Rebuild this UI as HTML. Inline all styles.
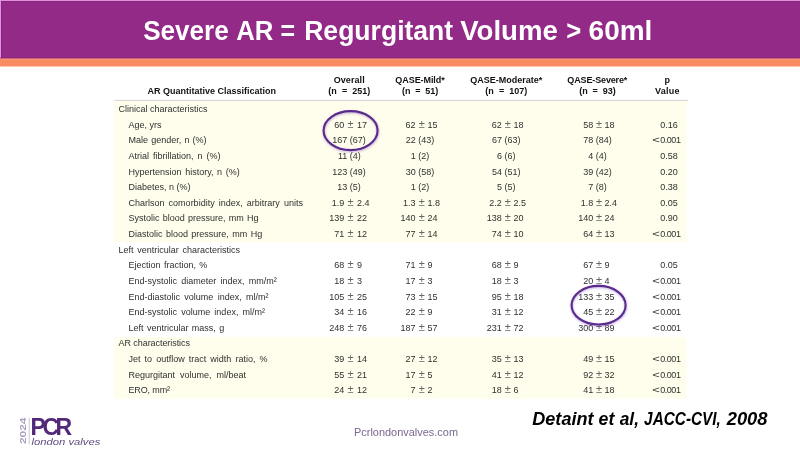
<!DOCTYPE html>
<html lang="en"><head><meta charset="utf-8"><title>Severe AR = Regurgitant Volume &gt; 60ml</title>
<style>
html,body{margin:0;padding:0;background:#fff;}
body{width:800px;height:450px;overflow:hidden;position:relative;font-family:"Liberation Sans",sans-serif;}
svg{position:absolute;left:0;top:0;display:block}
text{font-family:"Liberation Sans",sans-serif;white-space:pre}
.t{font-size:9px;fill:#303030}
.b{font-size:9px;font-weight:bold;fill:#111}
</style></head><body>
<svg width="800" height="450" viewBox="0 0 800 450">
<defs><filter id="sh" x="-20%" y="-20%" width="140%" height="150%"><feGaussianBlur stdDeviation="1"/></filter></defs>

<rect x="0" y="0" width="800" height="58.7" fill="#932a88"/>
<rect x="0" y="0" width="800" height="1" fill="#e291dc"/>
<rect x="0" y="1" width="800" height="1" fill="#852680"/>
<rect x="0" y="0" width="1" height="58.4" fill="#e291dc"/>
<rect x="1" y="1" width="1" height="57.4" fill="#852680"/>
<rect x="0" y="57.6" width="800" height="1.1" fill="#8a2170"/>
<rect x="0" y="58.7" width="800" height="8" fill="#f98b63"/>
<rect x="0" y="58.7" width="800" height="0.8" fill="#fb9a85"/>
<rect x="0" y="66.7" width="800" height="4" fill="#fffdf8"/>
<text y="39.7" font-size="27" font-weight="bold" fill="#fff"><tspan x="143.2" textLength="85.6" lengthAdjust="spacingAndGlyphs">Severe</tspan> <tspan x="236.2" textLength="37.2" lengthAdjust="spacingAndGlyphs">AR</tspan> <tspan x="280.6" textLength="14.6" lengthAdjust="spacingAndGlyphs">=</tspan> <tspan x="304.2" textLength="149.0" lengthAdjust="spacingAndGlyphs">Regurgitant</tspan> <tspan x="460.2" textLength="97.6" lengthAdjust="spacingAndGlyphs">Volume</tspan> <tspan x="566.2" textLength="15.0" lengthAdjust="spacingAndGlyphs">&gt;</tspan> <tspan x="588.6" textLength="63.8" lengthAdjust="spacingAndGlyphs">60ml</tspan></text>
<rect x="114.5" y="100" width="572" height="142.4" fill="#fffdeb"/>
<rect x="114.5" y="337" width="572" height="61.6" fill="#fffdeb"/>
<rect x="114.5" y="99.9" width="573.5" height="0.9" fill="#cfcfcf"/>
<text class="b" x="147.4" y="94" text-anchor="start">AR Quantitative Classification</text>
<text class="b" x="349.2" y="83" text-anchor="middle" style="letter-spacing:0.08px">Overall</text>
<text class="b" x="349.3" y="94" text-anchor="middle" style="word-spacing:2.60px">(n = 251)</text>
<text class="b" x="420" y="83" text-anchor="middle" style="letter-spacing:-0.07px">QASE-Mild*</text>
<text class="b" x="420.2" y="94" text-anchor="middle" style="word-spacing:2.20px">(n = 51)</text>
<text class="b" x="506.3" y="83" text-anchor="middle">QASE-Moderate*</text>
<text class="b" x="506.3" y="94" text-anchor="middle" style="word-spacing:2.60px">(n = 107)</text>
<text class="b" x="597.3" y="83" text-anchor="middle" style="letter-spacing:-0.14px">QASE-Severe*</text>
<text class="b" x="597.5" y="94" text-anchor="middle" style="word-spacing:2.30px">(n = 93)</text>
<text class="b" x="667.3" y="83" text-anchor="middle">p</text>
<text class="b" x="667.4" y="94" text-anchor="middle" style="letter-spacing:0.28px">Value</text>
<text class="t" x="118.5" y="112.1" text-anchor="start" style="word-spacing:0.00px">Clinical characteristics</text>
<text class="t" x="128.5" y="127.72" text-anchor="start" style="word-spacing:0.00px">Age, yrs</text>
<text class="t" y="127.72"><tspan x="344.3" text-anchor="end">60</tspan><tspan x="350.5" text-anchor="middle" font-size="11" fill="#666"> ± </tspan><tspan x="356.9" text-anchor="start">17</tspan></text>
<text class="t" y="127.72"><tspan x="415.6" text-anchor="end">62</tspan><tspan x="421.8" text-anchor="middle" font-size="11" fill="#666"> ± </tspan><tspan x="427.6" text-anchor="start">15</tspan></text>
<text class="t" y="127.72"><tspan x="501.7" text-anchor="end">62</tspan><tspan x="507.8" text-anchor="middle" font-size="11" fill="#666"> ± </tspan><tspan x="513.5" text-anchor="start">18</tspan></text>
<text class="t" y="127.72"><tspan x="593.3" text-anchor="end">58</tspan><tspan x="599.0" text-anchor="middle" font-size="11" fill="#666"> ± </tspan><tspan x="604.6" text-anchor="start">18</tspan></text>
<text class="t" x="660.2" y="127.72">0.16</text>
<text class="t" x="128.5" y="143.35" text-anchor="start" style="word-spacing:0.67px">Male gender, n (%)</text>
<text class="t" y="143.35"><tspan x="347.3" text-anchor="end">167</tspan><tspan x="347.3" text-anchor="start"> (67)</tspan></text>
<text class="t" y="143.35"><tspan x="415.8" text-anchor="end">22</tspan><tspan x="415.8" text-anchor="start"> (43)</tspan></text>
<text class="t" y="143.35"><tspan x="501.9" text-anchor="end">67</tspan><tspan x="501.9" text-anchor="start"> (63)</tspan></text>
<text class="t" y="143.35"><tspan x="593.3" text-anchor="end">78</tspan><tspan x="593.3" text-anchor="start"> (84)</tspan></text>
<text class="t" y="143.35"><tspan x="659.8000000000001" text-anchor="end" textLength="7.6" lengthAdjust="spacingAndGlyphs">&lt;</tspan><tspan x="660.2" text-anchor="start" style="letter-spacing:-0.45px">0.001</tspan></text>
<text class="t" x="128.5" y="158.97" text-anchor="start" style="word-spacing:1.50px">Atrial fibrillation, n (%)</text>
<text class="t" y="158.97"><tspan x="347.3" text-anchor="end">11</tspan><tspan x="347.3" text-anchor="start"> (4)</tspan></text>
<text class="t" y="158.97"><tspan x="415.8" text-anchor="end">1</tspan><tspan x="415.8" text-anchor="start"> (2)</tspan></text>
<text class="t" y="158.97"><tspan x="501.9" text-anchor="end">6</tspan><tspan x="501.9" text-anchor="start"> (6)</tspan></text>
<text class="t" y="158.97"><tspan x="593.3" text-anchor="end">4</tspan><tspan x="593.3" text-anchor="start"> (4)</tspan></text>
<text class="t" x="660.2" y="158.97">0.58</text>
<text class="t" x="128.5" y="174.6" text-anchor="start" style="word-spacing:1.12px">Hypertension history, n (%)</text>
<text class="t" y="174.6"><tspan x="347.3" text-anchor="end">123</tspan><tspan x="347.3" text-anchor="start"> (49)</tspan></text>
<text class="t" y="174.6"><tspan x="415.8" text-anchor="end">30</tspan><tspan x="415.8" text-anchor="start"> (58)</tspan></text>
<text class="t" y="174.6"><tspan x="501.9" text-anchor="end">54</tspan><tspan x="501.9" text-anchor="start"> (51)</tspan></text>
<text class="t" y="174.6"><tspan x="593.3" text-anchor="end">39</tspan><tspan x="593.3" text-anchor="start"> (42)</tspan></text>
<text class="t" x="660.2" y="174.6">0.20</text>
<text class="t" x="128.5" y="190.22" text-anchor="start" style="word-spacing:0.00px">Diabetes, n (%)</text>
<text class="t" y="190.22"><tspan x="347.3" text-anchor="end">13</tspan><tspan x="347.3" text-anchor="start"> (5)</tspan></text>
<text class="t" y="190.22"><tspan x="415.8" text-anchor="end">1</tspan><tspan x="415.8" text-anchor="start"> (2)</tspan></text>
<text class="t" y="190.22"><tspan x="501.9" text-anchor="end">5</tspan><tspan x="501.9" text-anchor="start"> (5)</tspan></text>
<text class="t" y="190.22"><tspan x="593.3" text-anchor="end">7</tspan><tspan x="593.3" text-anchor="start"> (8)</tspan></text>
<text class="t" x="660.2" y="190.22">0.38</text>
<text class="t" x="128.5" y="205.85" text-anchor="start" style="word-spacing:1.60px">Charlson comorbidity index, arbitrary units</text>
<text class="t" y="205.85"><tspan x="344.3" text-anchor="end">1.9</tspan><tspan x="350.5" text-anchor="middle" font-size="11" fill="#666"> ± </tspan><tspan x="356.9" text-anchor="start">2.4</tspan></text>
<text class="t" y="205.85"><tspan x="415.6" text-anchor="end">1.3</tspan><tspan x="421.8" text-anchor="middle" font-size="11" fill="#666"> ± </tspan><tspan x="427.6" text-anchor="start">1.8</tspan></text>
<text class="t" y="205.85"><tspan x="501.7" text-anchor="end">2.2</tspan><tspan x="507.8" text-anchor="middle" font-size="11" fill="#666"> ± </tspan><tspan x="513.5" text-anchor="start">2.5</tspan></text>
<text class="t" y="205.85"><tspan x="593.3" text-anchor="end">1.8</tspan><tspan x="599.0" text-anchor="middle" font-size="11" fill="#666"> ± </tspan><tspan x="604.6" text-anchor="start">2.4</tspan></text>
<text class="t" x="660.2" y="205.85">0.05</text>
<text class="t" x="128.5" y="221.47" text-anchor="start" style="word-spacing:0.75px">Systolic blood pressure, mm Hg</text>
<text class="t" y="221.47"><tspan x="344.3" text-anchor="end">139</tspan><tspan x="350.5" text-anchor="middle" font-size="11" fill="#666"> ± </tspan><tspan x="356.9" text-anchor="start">22</tspan></text>
<text class="t" y="221.47"><tspan x="415.6" text-anchor="end">140</tspan><tspan x="421.8" text-anchor="middle" font-size="11" fill="#666"> ± </tspan><tspan x="427.6" text-anchor="start">24</tspan></text>
<text class="t" y="221.47"><tspan x="501.7" text-anchor="end">138</tspan><tspan x="507.8" text-anchor="middle" font-size="11" fill="#666"> ± </tspan><tspan x="513.5" text-anchor="start">20</tspan></text>
<text class="t" y="221.47"><tspan x="593.3" text-anchor="end">140</tspan><tspan x="599.0" text-anchor="middle" font-size="11" fill="#666"> ± </tspan><tspan x="604.6" text-anchor="start">24</tspan></text>
<text class="t" x="660.2" y="221.47">0.90</text>
<text class="t" x="128.5" y="237.1" text-anchor="start" style="word-spacing:0.91px">Diastolic blood pressure, mm Hg</text>
<text class="t" y="237.1"><tspan x="344.3" text-anchor="end">71</tspan><tspan x="350.5" text-anchor="middle" font-size="11" fill="#666"> ± </tspan><tspan x="356.9" text-anchor="start">12</tspan></text>
<text class="t" y="237.1"><tspan x="415.6" text-anchor="end">77</tspan><tspan x="421.8" text-anchor="middle" font-size="11" fill="#666"> ± </tspan><tspan x="427.6" text-anchor="start">14</tspan></text>
<text class="t" y="237.1"><tspan x="501.7" text-anchor="end">74</tspan><tspan x="507.8" text-anchor="middle" font-size="11" fill="#666"> ± </tspan><tspan x="513.5" text-anchor="start">10</tspan></text>
<text class="t" y="237.1"><tspan x="593.3" text-anchor="end">64</tspan><tspan x="599.0" text-anchor="middle" font-size="11" fill="#666"> ± </tspan><tspan x="604.6" text-anchor="start">13</tspan></text>
<text class="t" y="237.1"><tspan x="659.8000000000001" text-anchor="end" textLength="7.6" lengthAdjust="spacingAndGlyphs">&lt;</tspan><tspan x="660.2" text-anchor="start" style="letter-spacing:-0.45px">0.001</tspan></text>
<text class="t" x="118.5" y="252.72" text-anchor="start" style="word-spacing:1.25px">Left ventricular characteristics</text>
<text class="t" x="128.5" y="268.35" text-anchor="start" style="word-spacing:0.88px">Ejection fraction, %</text>
<text class="t" y="268.35"><tspan x="344.3" text-anchor="end">68</tspan><tspan x="350.5" text-anchor="middle" font-size="11" fill="#666"> ± </tspan><tspan x="356.9" text-anchor="start">9</tspan></text>
<text class="t" y="268.35"><tspan x="415.6" text-anchor="end">71</tspan><tspan x="421.8" text-anchor="middle" font-size="11" fill="#666"> ± </tspan><tspan x="427.6" text-anchor="start">9</tspan></text>
<text class="t" y="268.35"><tspan x="501.7" text-anchor="end">68</tspan><tspan x="507.8" text-anchor="middle" font-size="11" fill="#666"> ± </tspan><tspan x="513.5" text-anchor="start">9</tspan></text>
<text class="t" y="268.35"><tspan x="593.3" text-anchor="end">67</tspan><tspan x="599.0" text-anchor="middle" font-size="11" fill="#666"> ± </tspan><tspan x="604.6" text-anchor="start">9</tspan></text>
<text class="t" x="660.2" y="268.35">0.05</text>
<text class="t" x="128.5" y="283.98" text-anchor="start" style="word-spacing:1.75px">End-systolic diameter index, mm/m²</text>
<text class="t" y="283.98"><tspan x="344.3" text-anchor="end">18</tspan><tspan x="350.5" text-anchor="middle" font-size="11" fill="#666"> ± </tspan><tspan x="356.9" text-anchor="start">3</tspan></text>
<text class="t" y="283.98"><tspan x="415.6" text-anchor="end">17</tspan><tspan x="421.8" text-anchor="middle" font-size="11" fill="#666"> ± </tspan><tspan x="427.6" text-anchor="start">3</tspan></text>
<text class="t" y="283.98"><tspan x="501.7" text-anchor="end">18</tspan><tspan x="507.8" text-anchor="middle" font-size="11" fill="#666"> ± </tspan><tspan x="513.5" text-anchor="start">3</tspan></text>
<text class="t" y="283.98"><tspan x="593.3" text-anchor="end">20</tspan><tspan x="599.0" text-anchor="middle" font-size="11" fill="#666"> ± </tspan><tspan x="604.6" text-anchor="start">4</tspan></text>
<text class="t" y="283.98"><tspan x="659.8000000000001" text-anchor="end" textLength="7.6" lengthAdjust="spacingAndGlyphs">&lt;</tspan><tspan x="660.2" text-anchor="start" style="letter-spacing:-0.45px">0.001</tspan></text>
<text class="t" x="128.5" y="299.6" text-anchor="start" style="word-spacing:1.80px">End-diastolic volume index, ml/m²</text>
<text class="t" y="299.6"><tspan x="344.3" text-anchor="end">105</tspan><tspan x="350.5" text-anchor="middle" font-size="11" fill="#666"> ± </tspan><tspan x="356.9" text-anchor="start">25</tspan></text>
<text class="t" y="299.6"><tspan x="415.6" text-anchor="end">73</tspan><tspan x="421.8" text-anchor="middle" font-size="11" fill="#666"> ± </tspan><tspan x="427.6" text-anchor="start">15</tspan></text>
<text class="t" y="299.6"><tspan x="501.7" text-anchor="end">95</tspan><tspan x="507.8" text-anchor="middle" font-size="11" fill="#666"> ± </tspan><tspan x="513.5" text-anchor="start">18</tspan></text>
<text class="t" y="299.6"><tspan x="593.3" text-anchor="end">133</tspan><tspan x="599.0" text-anchor="middle" font-size="11" fill="#666"> ± </tspan><tspan x="604.6" text-anchor="start">35</tspan></text>
<text class="t" y="299.6"><tspan x="659.8000000000001" text-anchor="end" textLength="7.6" lengthAdjust="spacingAndGlyphs">&lt;</tspan><tspan x="660.2" text-anchor="start" style="letter-spacing:-0.45px">0.001</tspan></text>
<text class="t" x="128.5" y="315.23" text-anchor="start" style="word-spacing:1.67px">End-systolic volume index, ml/m²</text>
<text class="t" y="315.23"><tspan x="344.3" text-anchor="end">34</tspan><tspan x="350.5" text-anchor="middle" font-size="11" fill="#666"> ± </tspan><tspan x="356.9" text-anchor="start">16</tspan></text>
<text class="t" y="315.23"><tspan x="415.6" text-anchor="end">22</tspan><tspan x="421.8" text-anchor="middle" font-size="11" fill="#666"> ± </tspan><tspan x="427.6" text-anchor="start">9</tspan></text>
<text class="t" y="315.23"><tspan x="501.7" text-anchor="end">31</tspan><tspan x="507.8" text-anchor="middle" font-size="11" fill="#666"> ± </tspan><tspan x="513.5" text-anchor="start">12</tspan></text>
<text class="t" y="315.23"><tspan x="593.3" text-anchor="end">45</tspan><tspan x="599.0" text-anchor="middle" font-size="11" fill="#666"> ± </tspan><tspan x="604.6" text-anchor="start">22</tspan></text>
<text class="t" y="315.23"><tspan x="659.8000000000001" text-anchor="end" textLength="7.6" lengthAdjust="spacingAndGlyphs">&lt;</tspan><tspan x="660.2" text-anchor="start" style="letter-spacing:-0.45px">0.001</tspan></text>
<text class="t" x="128.5" y="330.85" text-anchor="start" style="word-spacing:0.92px">Left ventricular mass, g</text>
<text class="t" y="330.85"><tspan x="344.3" text-anchor="end">248</tspan><tspan x="350.5" text-anchor="middle" font-size="11" fill="#666"> ± </tspan><tspan x="356.9" text-anchor="start">76</tspan></text>
<text class="t" y="330.85"><tspan x="415.6" text-anchor="end">187</tspan><tspan x="421.8" text-anchor="middle" font-size="11" fill="#666"> ± </tspan><tspan x="427.6" text-anchor="start">57</tspan></text>
<text class="t" y="330.85"><tspan x="501.7" text-anchor="end">231</tspan><tspan x="507.8" text-anchor="middle" font-size="11" fill="#666"> ± </tspan><tspan x="513.5" text-anchor="start">72</tspan></text>
<text class="t" y="330.85"><tspan x="593.3" text-anchor="end">300</tspan><tspan x="599.0" text-anchor="middle" font-size="11" fill="#666"> ± </tspan><tspan x="604.6" text-anchor="start">89</tspan></text>
<text class="t" y="330.85"><tspan x="659.8000000000001" text-anchor="end" textLength="7.6" lengthAdjust="spacingAndGlyphs">&lt;</tspan><tspan x="660.2" text-anchor="start" style="letter-spacing:-0.45px">0.001</tspan></text>
<text class="t" x="118.5" y="346.48" text-anchor="start" style="letter-spacing:-0.06px">AR characteristics</text>
<text class="t" x="128.5" y="362.1" text-anchor="start" style="word-spacing:1.57px">Jet to outflow tract width ratio, %</text>
<text class="t" y="362.1"><tspan x="344.3" text-anchor="end">39</tspan><tspan x="350.5" text-anchor="middle" font-size="11" fill="#666"> ± </tspan><tspan x="356.9" text-anchor="start">14</tspan></text>
<text class="t" y="362.1"><tspan x="415.6" text-anchor="end">27</tspan><tspan x="421.8" text-anchor="middle" font-size="11" fill="#666"> ± </tspan><tspan x="427.6" text-anchor="start">12</tspan></text>
<text class="t" y="362.1"><tspan x="501.7" text-anchor="end">35</tspan><tspan x="507.8" text-anchor="middle" font-size="11" fill="#666"> ± </tspan><tspan x="513.5" text-anchor="start">13</tspan></text>
<text class="t" y="362.1"><tspan x="593.3" text-anchor="end">49</tspan><tspan x="599.0" text-anchor="middle" font-size="11" fill="#666"> ± </tspan><tspan x="604.6" text-anchor="start">15</tspan></text>
<text class="t" y="362.1"><tspan x="659.8000000000001" text-anchor="end" textLength="7.6" lengthAdjust="spacingAndGlyphs">&lt;</tspan><tspan x="660.2" text-anchor="start" style="letter-spacing:-0.45px">0.001</tspan></text>
<text class="t" x="128.5" y="377.73" text-anchor="start" style="word-spacing:2.45px">Regurgitant volume, ml/beat</text>
<text class="t" y="377.73"><tspan x="344.3" text-anchor="end">55</tspan><tspan x="350.5" text-anchor="middle" font-size="11" fill="#666"> ± </tspan><tspan x="356.9" text-anchor="start">21</tspan></text>
<text class="t" y="377.73"><tspan x="415.6" text-anchor="end">17</tspan><tspan x="421.8" text-anchor="middle" font-size="11" fill="#666"> ± </tspan><tspan x="427.6" text-anchor="start">5</tspan></text>
<text class="t" y="377.73"><tspan x="501.7" text-anchor="end">41</tspan><tspan x="507.8" text-anchor="middle" font-size="11" fill="#666"> ± </tspan><tspan x="513.5" text-anchor="start">12</tspan></text>
<text class="t" y="377.73"><tspan x="593.3" text-anchor="end">92</tspan><tspan x="599.0" text-anchor="middle" font-size="11" fill="#666"> ± </tspan><tspan x="604.6" text-anchor="start">32</tspan></text>
<text class="t" y="377.73"><tspan x="659.8000000000001" text-anchor="end" textLength="7.6" lengthAdjust="spacingAndGlyphs">&lt;</tspan><tspan x="660.2" text-anchor="start" style="letter-spacing:-0.45px">0.001</tspan></text>
<text class="t" x="128.5" y="393.35" text-anchor="start" style="letter-spacing:-0.14px">ERO, mm²</text>
<text class="t" y="393.35"><tspan x="344.3" text-anchor="end">24</tspan><tspan x="350.5" text-anchor="middle" font-size="11" fill="#666"> ± </tspan><tspan x="356.9" text-anchor="start">12</tspan></text>
<text class="t" y="393.35"><tspan x="415.6" text-anchor="end">7</tspan><tspan x="421.8" text-anchor="middle" font-size="11" fill="#666"> ± </tspan><tspan x="427.6" text-anchor="start">2</tspan></text>
<text class="t" y="393.35"><tspan x="501.7" text-anchor="end">18</tspan><tspan x="507.8" text-anchor="middle" font-size="11" fill="#666"> ± </tspan><tspan x="513.5" text-anchor="start">6</tspan></text>
<text class="t" y="393.35"><tspan x="593.3" text-anchor="end">41</tspan><tspan x="599.0" text-anchor="middle" font-size="11" fill="#666"> ± </tspan><tspan x="604.6" text-anchor="start">18</tspan></text>
<text class="t" y="393.35"><tspan x="659.8000000000001" text-anchor="end" textLength="7.6" lengthAdjust="spacingAndGlyphs">&lt;</tspan><tspan x="660.2" text-anchor="start" style="letter-spacing:-0.45px">0.001</tspan></text>
<ellipse cx="350.6" cy="130.6" rx="27" ry="19.5" fill="none" stroke="#7a4fc0" stroke-opacity="0.45" stroke-width="2.4" filter="url(#sh)" transform="translate(0.3,1)"/>
<ellipse cx="350.6" cy="130.6" rx="27" ry="19.5" fill="none" stroke="#5a2b8c" stroke-width="2.1"/>
<ellipse cx="598.6" cy="305.2" rx="27" ry="19.3" fill="none" stroke="#7a4fc0" stroke-opacity="0.45" stroke-width="2.4" filter="url(#sh)" transform="translate(0.3,1)"/>
<ellipse cx="598.6" cy="305.2" rx="27" ry="19.3" fill="none" stroke="#5a2b8c" stroke-width="2.1"/>
<text x="354" y="435.8" font-size="11.6" fill="#78688f" textLength="104" lengthAdjust="spacingAndGlyphs">Pcrlondonvalves.com</text>
<text y="425" font-size="18.4" font-weight="bold" font-style="italic" fill="#000"><tspan x="532.3" textLength="61.2" lengthAdjust="spacingAndGlyphs">Detaint</tspan> <tspan x="598.6" textLength="15.7" lengthAdjust="spacingAndGlyphs">et</tspan> <tspan x="619.7" textLength="19.3" lengthAdjust="spacingAndGlyphs">al,</tspan> <tspan x="644.1" textLength="76.8" lengthAdjust="spacingAndGlyphs">JACC-CVI,</tspan> <tspan x="726.7" textLength="40.8" lengthAdjust="spacingAndGlyphs">2008</tspan></text>
<text x="30.6" y="435" font-size="23" font-weight="bold" fill="#532878" textLength="41.6" lengthAdjust="spacing">PCR</text>
<text x="31.4" y="444.8" font-size="8.8" font-style="italic" fill="#5f4a7c" textLength="69" lengthAdjust="spacingAndGlyphs">london valves</text>
<rect x="28.8" y="417.8" width="0.8" height="26.4" fill="#c3b8d2"/>
<text transform="translate(26.3,444.1) rotate(-90)" font-size="9.6" font-weight="bold" fill="#ac9fc0" textLength="26.6" lengthAdjust="spacingAndGlyphs">2024</text>
</svg></body></html>
